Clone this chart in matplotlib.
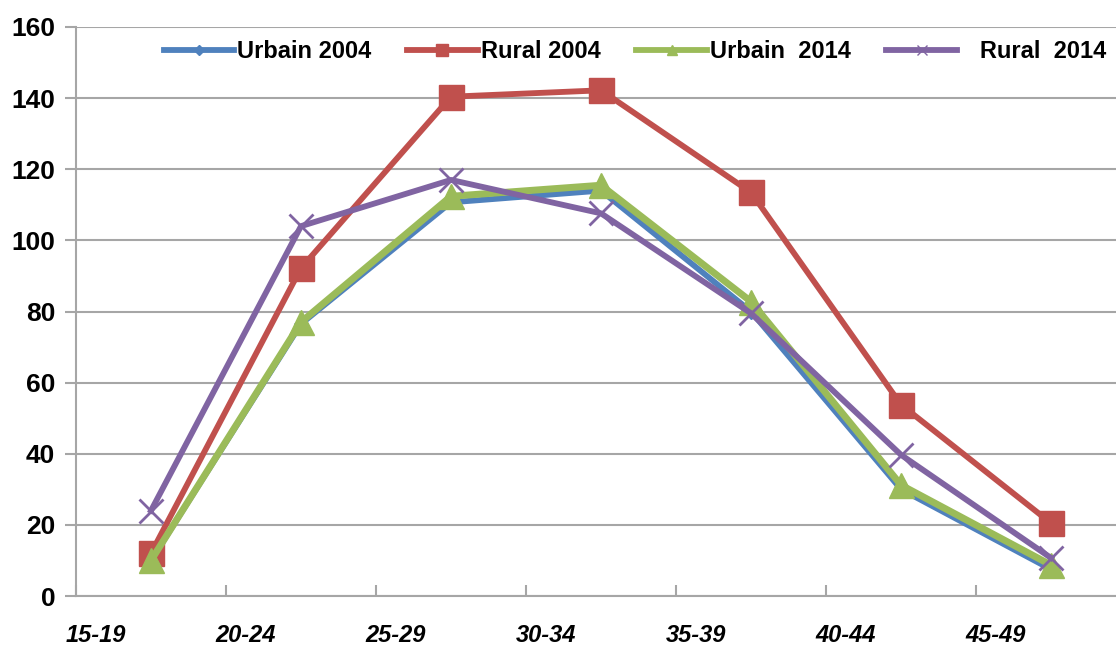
import matplotlib
matplotlib.use("Agg")
import matplotlib.pyplot as plt
import numpy as np
from matplotlib.lines import Line2D

categories = ["15-19", "20-24", "25-29", "30-34", "35-39", "40-44", "45-49"]
urbain_2004 = [10, 76.5, 110.7, 114, 80, 30, 7.5]
rural_2004 = [12, 92.2, 140.4, 142.2, 113.5, 53.8, 20.5]
urbain_2014 = [10, 77, 112.4, 115.5, 82.8, 31.2, 8.7]
rural_2014 = [24, 104, 117, 107.6, 79.5, 39.7, 10.7]
series_labels = ["Urbain 2004", "Rural 2004", "Urbain  2014", "   Rural  2014"]
yticks = [0, 20, 40, 60, 80, 100, 120, 140, 160]

W, H = 1116, 646
fig = plt.figure(figsize=(W / 100, H / 100), dpi=100)
left_px, right_px, top_px, bot_px = 76, W, 27, 596
ax = fig.add_axes([left_px / W, 1 - bot_px / H, (right_px - left_px) / W, (bot_px - top_px) / H])

x = np.arange(len(categories)) + 0.5
blue, red, green, purple = "#4F81BD", "#C0504D", "#9BBB59", "#8064A2"
lw = 4.2
ax.plot(x, urbain_2004, color=blue, lw=lw, marker="D", ms=7, zorder=3)
ax.plot(x, rural_2004, color=red, lw=lw, marker="s", ms=18, zorder=4)
ax.plot(x, urbain_2014, color=green, lw=lw + 0.8, marker="^", ms=18, zorder=5)
ax.plot(x, rural_2014, color=purple, lw=lw, marker="x", ms=17, mew=2, zorder=6)

fam = ["Liberation Sans", "DejaVu Sans"]
ax.set_xlim(0, (right_px - left_px) / 150)
ax.set_ylim(0, 160)
ax.set_yticks(yticks)
ax.set_yticklabels([str(v) for v in yticks], fontsize=19, fontweight="bold", family=fam)
ax.yaxis.grid(True, color="#a6a6a6", lw=1.5)
ax.set_axisbelow(True)

ax.set_xticks(np.arange(0, 7), minor=False)
ax.set_xticklabels([])
ax.tick_params(axis="x", which="major", direction="in", length=8, color="#a6a6a6", width=1.5)
ax.set_xticks(np.arange(len(categories)) + 0.13, minor=True)
ax.set_xticklabels(categories, minor=True, fontsize=17, fontweight="bold", style="italic",
                   family=fam)
ax.tick_params(axis="x", which="minor", length=0, pad=20)
ax.tick_params(axis="y", direction="out", length=8, color="#a6a6a6", width=1.5, pad=7)

for s in ["top", "right"]:
    ax.spines[s].set_visible(False)
for s in ["left", "bottom"]:
    ax.spines[s].set_color("#a6a6a6")
    ax.spines[s].set_linewidth(1.5)

handles = [
    Line2D([], [], color=blue, lw=lw, marker="D", ms=5),
    Line2D([], [], color=red, lw=lw, marker="s", ms=8),
    Line2D([], [], color=green, lw=lw, marker="^", ms=7),
    Line2D([], [], color=purple, lw=lw, marker="x", ms=7),
]
fig.legend(handles, series_labels, loc="center", ncol=4, frameon=False,
           bbox_to_anchor=((168 + 1102) / 2 / W, 1 - 52 / H),
           prop={"family": fam, "size": 17, "weight": "bold"},
           handlelength=3.0, handletextpad=0.13, columnspacing=1.5)

fig.savefig("out.png", dpi=100)
